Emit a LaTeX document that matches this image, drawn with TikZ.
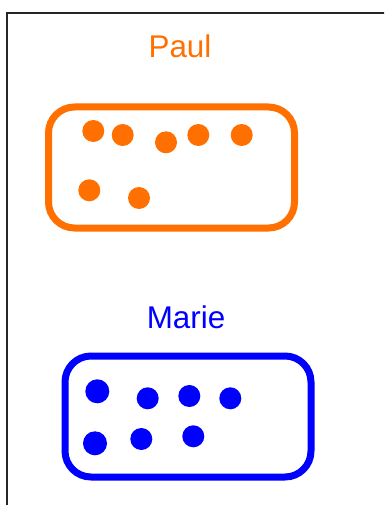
\documentclass[tikz,border=0pt]{standalone}
\usepackage{fontspec}
\setmainfont{Liberation Sans}
\definecolor{paulorange}{RGB}{255,112,0}
\definecolor{marieblue}{RGB}{0,0,255}
\begin{document}
\begin{tikzpicture}[x=1bp,y=-1bp,
  lbl/.style={anchor=base,inner sep=0pt,font=\fontsize{31.5}{37}\selectfont},
  grp/.style={line width=7bp,rounded corners=26bp},
  dot/.style={circle,inner sep=0pt,minimum size=22bp}]
\useasboundingbox (0,0) rectangle (384,505);
\begin{scope}
\clip (0,0) rectangle (384,505);
\draw[line width=2.5bp,black!85] (7,520) -- (7,13) -- (400,13);
\end{scope}
% Paul
\node[lbl,text=paulorange] (paul) at (180,58) {Paul};
\draw[grp,paulorange] (48.5,107) rectangle (294.5,228);
\foreach \n/\x/\y in {p1/93.3/131,p2/122.7/135,p3/166/142.3,p4/198.3/135,p5/241.7/135,p6/89.3/190.3,p7/139/198}
  \node[dot,fill=paulorange] (\n) at (\x,\y) {};
% Marie
\node[lbl,text=marieblue] (marie) at (186,328.3) {Marie};
\draw[grp,marieblue] (65,356) rectangle (311,477);
\foreach \n/\x/\y/\s in {m1/97.3/391.3/24,m2/147.7/398.3/22,m3/189.3/396/22,m4/230.3/398.3/22,m5/95/443.3/24,m6/141.3/439/22,m7/193.3/436.3/22}
  \node[dot,fill=marieblue,minimum size=\s bp] (\n) at (\x,\y) {};
\end{tikzpicture}
\end{document}
